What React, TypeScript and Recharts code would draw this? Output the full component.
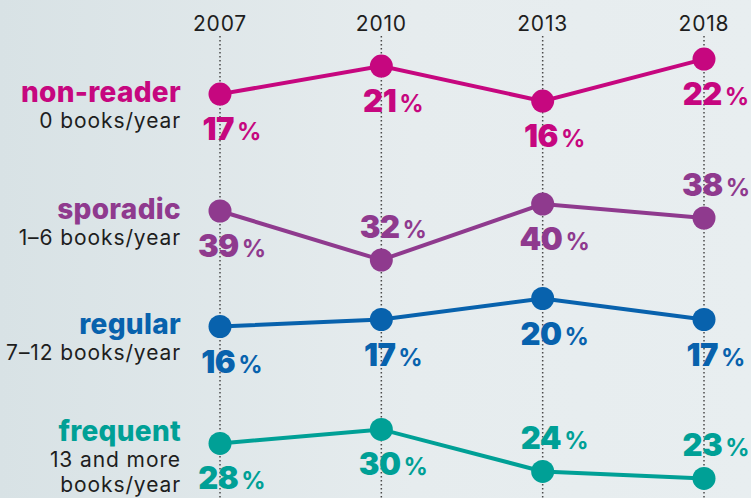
import React from 'react';
import { CartesianGrid, LabelList, Line, LineChart, XAxis, YAxis } from 'recharts';

const years = ['2007', '2010', '2013', '2018'];
const nonReader = [17, 21, 16, 22];
const sporadic = [39, 32, 40, 38];
const regular = [16, 17, 20, 17];
const frequent = [28, 30, 24, 23];

// each series sits in its own band; domains give ~7px per percentage point
const series = [
  { key: 'nonReader', name: 'non-reader', sub: ['0 books/year'], color: '#c6077f', domain: [-40.7, 25.3], sides: ['below', 'below', 'below', 'below'], nameY: 102 },
  { key: 'sporadic', name: 'sporadic', sub: ['1–6 books/year'], color: '#8f3a8e', domain: [-2, 64], sides: ['below', 'above', 'below', 'above'], nameY: 219 },
  { key: 'regular', name: 'regular', sub: ['7–12 books/year'], color: '#0862ad', domain: [-8.5, 57.5], sides: ['below', 'below', 'below', 'below'], nameY: 334 },
  { key: 'frequent', name: 'frequent', sub: ['13 and more', 'books/year'], color: '#00a096', domain: [20.2, 86.2], sides: ['below', 'below', 'above', 'above'], nameY: 441 },
];

const data = years.map((year, i) => ({
  year,
  nonReader: nonReader[i],
  sporadic: sporadic[i],
  regular: regular[i],
  frequent: frequent[i],
}));

const FONT = 'Inter, "Open Sans", sans-serif';

const makeLabel = (color: string, sides: string[]) => (props: any) => {
  const { x, y, value, index } = props;
  const base = sides[index] === 'above' ? y - 22 : y + 46;
  return (
    <text x={x + 12} y={base} fill={color} fontFamily={FONT} textAnchor="middle">
      <tspan fontSize={31} fontWeight={900} letterSpacing={-0.5}>{value}</tspan>
      <tspan fontSize={24} fontWeight={700} dx={3}>%</tspan>
    </text>
  );
};

export default function App() {
  return (
    <div
      style={{
        position: 'absolute',
        left: 0,
        top: 0,
        width: 751,
        height: 498,
        overflow: 'hidden',
        background: 'linear-gradient(90deg, #d8e2e5 0%, #e6ecee 55%, #e8eef0 100%)',
      }}
    >
      <LineChart width={751} height={498} data={data} margin={{ top: 6, right: 47, bottom: 0, left: 220 }}>
        <XAxis
          dataKey="year"
          orientation="top"
          height={30}
          axisLine={false}
          tickLine={false}
          tickSize={0}
          tickMargin={5}
          tick={{ fill: '#1e1e1e', fontSize: 21, fontFamily: FONT, letterSpacing: 0.8 }}
        />
        {series.map(s => (
          <YAxis key={s.key} yAxisId={s.key} hide domain={s.domain} type="number" allowDataOverflow />
        ))}
        <CartesianGrid yAxisId="nonReader" horizontal={false} stroke="#4a4a4a" strokeWidth={1.5} strokeDasharray="1.5 2.5" />
        {series.map(s => (
          <Line
            key={s.key}
            yAxisId={s.key}
            dataKey={s.key}
            stroke={s.color}
            strokeWidth={4}
            dot={{ r: 11.5, fill: s.color, stroke: 'none' }}
            activeDot={false}
            isAnimationActive={false}
          >
            <LabelList dataKey={s.key} content={makeLabel(s.color, s.sides)} />
          </Line>
        ))}
      </LineChart>
      <svg width={751} height={498} style={{ position: 'absolute', left: 0, top: 0, pointerEvents: 'none' }}>
        {series.map(s => (
          <g key={s.key}>
            <text x={181} y={s.nameY} textAnchor="end" fill={s.color} fontFamily={FONT} fontSize={28} fontWeight={800} letterSpacing={0.3}>
              {s.name}
            </text>
            {s.sub.map((line, i) => (
              <text key={line} x={181} y={s.nameY + 26 + i * 25} textAnchor="end" fill="#1e1e1e" fontFamily={FONT} fontSize={21} letterSpacing={0.9}>
                {line}
              </text>
            ))}
          </g>
        ))}
      </svg>
    </div>
  );
}
